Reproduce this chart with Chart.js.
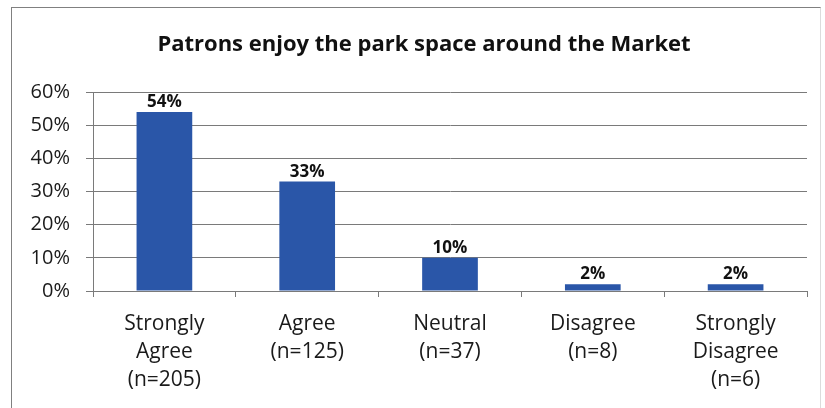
<!DOCTYPE html>
<html>
<head>
<meta charset="utf-8">
<script src="https://cdn.jsdelivr.net/npm/chart.js@4.4.1/dist/chart.umd.min.js"></script>
<style>
    html, body { margin: 0; padding: 0; background: #fff; }
    #wrap { position: relative; width: 825px; height: 408px; overflow: hidden; }
    #frame {
        position: absolute; left: 11px; top: 7px; width: 810px; height: 420px;
        border: 1px solid #808080; border-right-color: #dcdcdc;
        box-sizing: border-box; pointer-events: none;
    }
    canvas { position: absolute; left: 0; top: 0; }
</style>
</head>
<body>
<div id="wrap">
    <canvas id="parkChart" width="825" height="408"></canvas>
    <div id="frame"></div>
</div>
<script>
// Survey answers
const categories = [
    ['Strongly', 'Agree', '(n=205)'],
    ['Agree', '(n=125)'],
    ['Neutral', '(n=37)'],
    ['Disagree', '(n=8)'],
    ['Strongly', 'Disagree', '(n=6)']
];
const percentages = [54, 33, 10, 2, 2];
const yTicks = [0, 10, 20, 30, 40, 50, 60];
const chartTitle = 'Patrons enjoy the park space around the Market';

const FONT = "'Open Sans', 'Liberation Sans', sans-serif";
const BAR_BLUE = '#2a56a8';
const GRID_GREY = '#7a7a7a';

// heading drawn by hand so it can sit a little right of the canvas centre
const heading = {
    id: 'heading',
    afterDraw(chart) {
        const ctx = chart.ctx;
        ctx.save();
        ctx.font = 'bold 22px ' + FONT;
        ctx.fillStyle = '#111';
        ctx.textAlign = 'center';
        ctx.textBaseline = 'middle';
        ctx.fillText(chartTitle, 424, 45);
        ctx.restore();
    }
};

// percent labels above each bar
const barLabels = {
    id: 'barLabels',
    afterDatasetsDraw(chart) {
        const ctx = chart.ctx;
        const meta = chart.getDatasetMeta(0);
        ctx.save();
        ctx.font = 'bold 17px ' + FONT;
        ctx.fillStyle = '#111';
        ctx.textAlign = 'center';
        ctx.textBaseline = 'alphabetic';
        meta.data.forEach((bar, i) => {
            ctx.fillText(percentages[i] + '%', bar.x, bar.y - 5);
        });
        ctx.restore();
    }
};

new Chart(document.getElementById('parkChart'), {
    type: 'bar',
    data: {
        labels: categories,
        datasets: [{
            data: percentages,
            backgroundColor: BAR_BLUE,
            borderWidth: 0,
            barPercentage: 0.39,
            categoryPercentage: 1
        }]
    },
    options: {
        responsive: false,
        animation: false,
        layout: { padding: { left: 18, right: 18, top: 92, bottom: 0 } },
        plugins: {
            legend: { display: false },
            tooltip: { enabled: false },
            title: { display: false }
        },
        scales: {
            x: {
                offset: true,
                grid: {
                    offset: true,
                    drawOnChartArea: false,
                    drawTicks: true,
                    tickLength: 6,
                    color: GRID_GREY
                },
                border: { color: GRID_GREY, width: 1 },
                ticks: {
                    color: '#1a1a1a',
                    padding: 13,
                    font: { family: FONT, size: 21, lineHeight: 1.33 },
                    maxRotation: 0,
                    autoSkip: false
                },
                afterFit(scale) { scale.height = 117; }
            },
            y: {
                min: 0,
                max: 60,
                afterBuildTicks(scale) {
                    scale.ticks = yTicks.map(v => ({ value: v }));
                },
                grid: {
                    color: GRID_GREY,
                    tickLength: 7
                },
                border: { color: GRID_GREY, width: 1 },
                ticks: {
                    color: '#1a1a1a',
                    padding: 16,
                    font: { family: FONT, size: 20 },
                    callback: v => v + '%'
                },
                afterFit(scale) { scale.width = 75; }
            }
        }
    },
    plugins: [barLabels, heading]
});
</script>
</body>
</html>
